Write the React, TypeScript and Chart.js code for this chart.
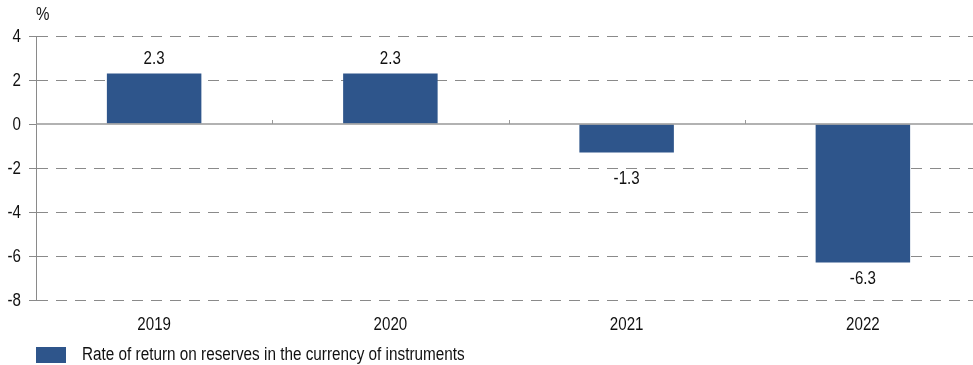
import React, { useEffect, useRef } from "react";
import { Chart, registerables } from "chart.js";

Chart.register(...registerables);

const categories = ["2019", "2020", "2021", "2022"];
const returns = [2.3, 2.3, -1.3, -6.3];
const yTicks = [4, 2, 0, -2, -4, -6, -8];
const seriesLabel = "Rate of return on reserves in the currency of instruments";
const unitLabel = "%";

const FONT = "'Liberation Sans', Arial, sans-serif";
const BAR = "#2E558B";
const GRID = "#8a8a8a";
const TEXT = "#111";
const SQUEEZE = 0.84;

// draw condensed text (the reference uses a narrow sans face)
function narrowText(
  ctx: CanvasRenderingContext2D,
  text: string,
  x: number,
  y: number,
  align: CanvasTextAlign,
  size: number,
  squeeze: number = SQUEEZE
) {
  ctx.save();
  ctx.font = size + "px " + FONT;
  ctx.textAlign = align;
  ctx.textBaseline = "middle";
  ctx.fillStyle = TEXT;
  ctx.translate(x, y);
  ctx.scale(squeeze, 1);
  ctx.fillText(text, 0, 0);
  ctx.restore();
}

const extras = {
  id: "extras",
  afterDatasetsDraw(chart: any) {
    const { ctx, chartArea, scales } = chart;
    const x = scales.x;
    const y = scales.y;
    const y0 = y.getPixelForValue(0);
    ctx.save();
    // zero line
    ctx.strokeStyle = "#999";
    ctx.lineWidth = 1.5;
    ctx.beginPath();
    ctx.moveTo(chartArea.left, y0);
    ctx.lineTo(chartArea.right, y0);
    ctx.stroke();
    // category boundary ticks
    ctx.lineWidth = 1;
    for (let i = 1; i < categories.length; i++) {
      const bx = (x.getPixelForValue(i - 1) + x.getPixelForValue(i)) / 2;
      ctx.beginPath();
      ctx.moveTo(Math.round(bx) + 0.5, y0 - 4);
      ctx.lineTo(Math.round(bx) + 0.5, y0);
      ctx.stroke();
    }
    ctx.restore();

    // y tick labels
    yTicks.forEach((v) => {
      narrowText(ctx, String(v), chartArea.left - 15, y.getPixelForValue(v) + 1, "right", 18);
    });
    // x category labels
    categories.forEach((c, i) => {
      narrowText(ctx, c, x.getPixelForValue(i), chartArea.bottom + 25, "center", 18);
    });
    // data labels
    const meta = chart.getDatasetMeta(0);
    const h = 13;
    meta.data.forEach((bar: any, i: number) => {
      const v = returns[i];
      let top: number;
      if (v >= 0) {
        top = bar.y - 8 - h;
      } else {
        top = bar.y + 10;
        for (const t of yTicks) {
          const gy = y.getPixelForValue(t);
          if (gy > top - 2 && gy < top + h + 2) top = gy + 5;
        }
      }
      narrowText(ctx, v.toFixed(1), bar.x, top + h / 2, "center", 18);
    });
    // unit label
    narrowText(ctx, unitLabel, chartArea.left, 15, "left", 18);
    // legend
    ctx.save();
    ctx.fillStyle = BAR;
    ctx.fillRect(chartArea.left, 347, 30, 16);
    ctx.restore();
    narrowText(ctx, seriesLabel, chartArea.left + 46, 355, "left", 18, 0.85);
  },
};

export default function App() {
  const ref = useRef<HTMLCanvasElement | null>(null);
  useEffect(() => {
    if (!ref.current) return;
    const chart = new Chart(ref.current, {
      type: "bar",
      data: {
        labels: categories,
        datasets: [
          {
            label: seriesLabel,
            data: returns,
            backgroundColor: BAR,
            borderWidth: 0,
            categoryPercentage: 1,
            barPercentage: 0.4,
          },
        ],
      },
      options: {
        animation: false,
        responsive: true,
        maintainAspectRatio: false,
        layout: { padding: { top: 36, bottom: 30, left: 0, right: 0 } },
        plugins: {
          legend: { display: false },
          tooltip: { enabled: false },
        },
        scales: {
          x: {
            grid: { display: false, drawTicks: false },
            border: { display: false },
            ticks: { display: false },
            afterFit: (s: any) => {
              s.height = 35;
            },
          },
          y: {
            min: -8,
            max: 4,
            afterBuildTicks: (s: any) => {
              s.ticks = yTicks.map((v) => ({ value: v }));
            },
            grid: {
              color: (c: any) => (c.tick && c.tick.value === 0 ? "rgba(0,0,0,0)" : GRID),
              tickColor: GRID,
              tickBorderDash: [],
              tickLength: 7,
              lineWidth: 1,
            },
            border: { display: true, color: GRID, width: 1, dash: [11, 8] },
            ticks: { display: false },
            afterFit: (s: any) => {
              s.width = 36;
            },
          },
        },
      },
      plugins: [extras],
    });
    return () => chart.destroy();
  }, []);
  return (
    <div
      style={{
        position: "fixed",
        left: 0,
        top: 0,
        width: 973,
        height: 365,
        overflow: "hidden",
        background: "#fff",
      }}
    >
      <div style={{ position: "relative", width: 981, height: 365 }}>
        <canvas ref={ref} />
      </div>
    </div>
  );
}
